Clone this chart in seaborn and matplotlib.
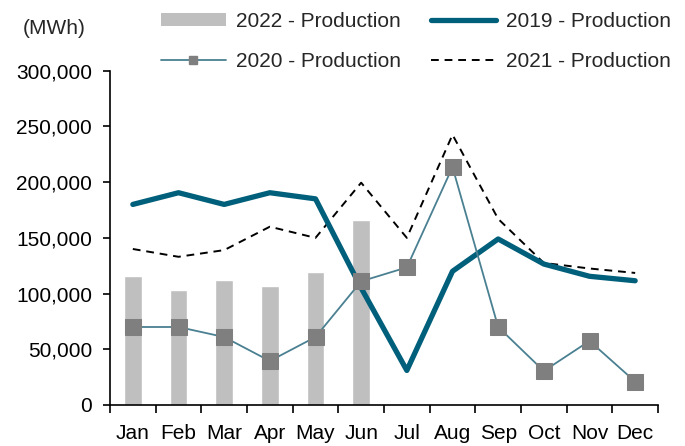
import matplotlib
matplotlib.use("Agg")
import matplotlib.pyplot as plt
import matplotlib.ticker as mticker
from matplotlib.lines import Line2D
from matplotlib.patches import Patch
import seaborn as sns
import pandas as pd
import numpy as np

months = ["Jan", "Feb", "Mar", "Apr", "May", "Jun", "Jul", "Aug", "Sep", "Oct", "Nov", "Dec"]
prod_2022 = [116000, 103500, 112500, 107000, 119500, 166000]
prod_2019 = [180000, 190500, 180000, 190500, 185000, 105000, 31000, 120000, 149000, 126500, 115500, 111500]
prod_2020 = [70000, 70000, 61000, 39500, 61000, 111000, 123500, 213500, 70000, 30500, 57500, 21000]
prod_2021 = [140000, 133000, 139000, 160000, 150000, 199500, 150000, 242500, 167000, 127500, 122500, 118500]

sns.set_theme(style="white")
plt.rcParams["font.family"] = ["Liberation Sans", "DejaVu Sans"]
FS = 15
plt.rcParams["font.size"] = FS

fig = plt.figure(figsize=(6.85, 4.46), dpi=100)
ax = fig.add_axes([110/685, 1-405/446, 548/685, (405-70.7)/446])

df22 = pd.DataFrame({"month": months[:6], "value": prod_2022})
sns.barplot(data=df22, x="month", y="value", order=months, color="#BFBFBF",
            width=0.39, saturation=1, ax=ax, zorder=1)

df = pd.DataFrame({"month": months, "p2019": prod_2019, "p2020": prod_2020, "p2021": prod_2021})
sns.lineplot(data=df, x="month", y="p2021", color="black", lw=1.4,
             dashes=False, linestyle=(0, (4, 3)), ax=ax, zorder=2)
sns.lineplot(data=df, x="month", y="p2019", color="#005F7A", lw=3.8, ax=ax, zorder=3,
             solid_capstyle="round", solid_joinstyle="round")
sns.lineplot(data=df, x="month", y="p2020", color="#4A8091", lw=1.3, marker="s",
             markersize=11.5, markerfacecolor="#7F7F7F", markeredgecolor="#7F7F7F",
             ax=ax, zorder=4)

ax.set_xlim(-0.5, 11.5)
ax.set_ylim(0, 300000)
ax.set_xlabel("")
ax.set_ylabel("")
ax.yaxis.set_major_locator(mticker.MultipleLocator(50000))
ax.yaxis.set_major_formatter(mticker.FuncFormatter(lambda v, p: f"{int(v):,}"))
for s in ["top", "right"]:
    ax.spines[s].set_visible(False)
for s in ["left", "bottom"]:
    ax.spines[s].set_color("black")
    ax.spines[s].set_linewidth(1.2)

ax.set_xticks(range(12))
ax.set_xticklabels(months)
ax.set_xticks(np.arange(-0.5, 12, 1), minor=True)
ax.tick_params(axis="x", which="major", length=0, pad=14, labelsize=FS, colors="black")
ax.tick_params(axis="x", which="minor", length=6, width=1.2, direction="out", color="black", bottom=True)
ax.tick_params(axis="y", which="major", length=5, width=1.2, direction="out", color="black",
               left=True, labelsize=FS, pad=8, labelcolor="black")

if ax.get_legend():
    ax.get_legend().remove()

handles = [
    Patch(facecolor="#BFBFBF", edgecolor="none"),
    Line2D([], [], color="#4A8091", lw=1.3, marker="s", markersize=6,
           markerfacecolor="#7F7F7F", markeredgecolor="#7F7F7F"),
    Line2D([], [], color="#005F7A", lw=3.8, solid_capstyle="round"),
    Line2D([], [], color="black", lw=1.4, linestyle=(0, (4, 3))),
]
labels = ["2022 - Production", "2020 - Production", "2019 - Production", "2021 - Production"]
fig.legend(handles, labels, ncol=2, loc="upper left", bbox_to_anchor=(161/685, 1-12/446),
           frameon=False, fontsize=FS, handlelength=3.1, handleheight=0.55, handletextpad=0.5,
           columnspacing=1.45, labelspacing=1.0, borderpad=0, borderaxespad=0)

fig.text(54/685, 1-28/446, "(MWh)", ha="center", va="center", fontsize=FS)

fig.savefig("out.png", dpi=100)
